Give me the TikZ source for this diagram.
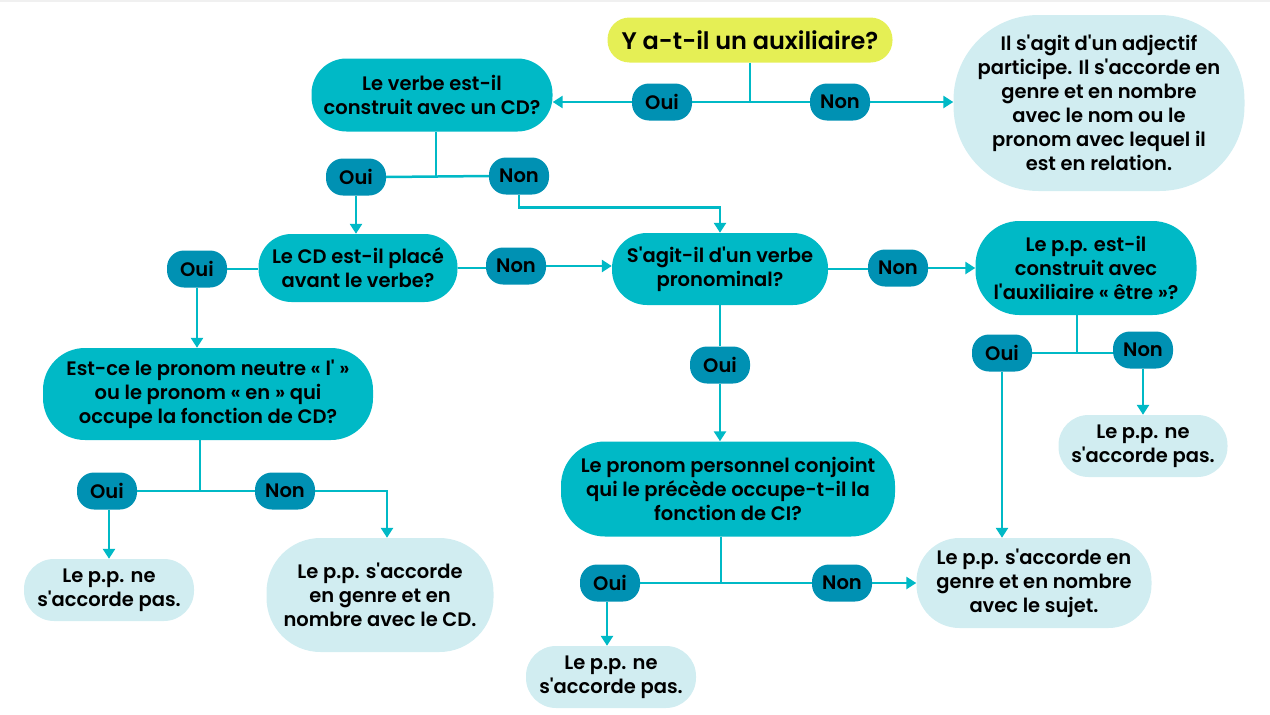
\documentclass[tikz,border=0pt]{standalone}
\usepackage{fontspec}
\newfontfamily\pf{Poppins}[BoldFont={Poppins SemiBold}]
\usetikzlibrary{arrows.meta}
\definecolor{tealc}{HTML}{00B9C6}
\definecolor{pillc}{HTML}{0091B3}
\definecolor{lightc}{HTML}{D1EDF1}
\definecolor{yelc}{HTML}{E5EF55}
\tikzset{
  base/.style={inner sep=0pt, align=center, text=black, font=\pf\bfseries\fontsize{19.5}{24}\selectfont},
  qbox/.style={base, fill=tealc},
  abox/.style={base, fill=lightc},
  pill/.style={base, fill=pillc, minimum width=60pt, minimum height=37pt, rounded corners=17pt},
  ln/.style={draw=tealc, line width=2.5pt},
  arr/.style={ln, -{Triangle[width=12pt,length=10pt]}},
}
\begin{document}
\begin{tikzpicture}[x=1pt,y=-1pt]
\useasboundingbox (0,0) rectangle (1270,715);
\fill[gray!12] (0,0) rectangle (1270,2);

% nodes
\node[base, fill=yelc, minimum width=285pt, minimum height=45pt, rounded corners=22pt, font=\pf\bfseries\fontsize{24}{28}\selectfont] (Y) at (750,40) {Y a-t-il un auxiliaire?};
\node[qbox, minimum width=241pt, minimum height=73pt, rounded corners=35pt] (CD) at (432,95) {Le verbe est-il\\construit avec un CD?};
\node[abox, minimum width=291pt, minimum height=176pt, rounded corners=85pt] (ADJ) at (1099,103) {Il s'agit d'un adjectif\\participe. Il s'accorde en\\genre et en nombre\\avec le nom ou le\\pronom avec lequel il\\est en relation.};
\node[pill] (o1) at (662,102) {Oui};
\node[pill] (n1) at (840,102) {Non};

\node[pill] (o2) at (356,177) {Oui};
\node[pill] (n2) at (519,176) {Non};

\node[qbox, minimum width=199pt, minimum height=68pt, rounded corners=33pt] (AV) at (358,268) {Le CD est-il placé\\avant le verbe?};
\node[qbox, minimum width=216pt, minimum height=72pt, rounded corners=35pt] (PR) at (720,269) {S'agit-il d'un verbe\\pronominal?};

\node[pill] (o3) at (197,269) {Oui};
\node[pill] (n3) at (516,266) {Non};
\node[qbox, minimum width=330pt, minimum height=92pt, rounded corners=42pt] (NE) at (208,394) {Est-ce le pronom neutre « l' »\\ou le pronom « en » qui\\occupe la fonction de CD?};

\node[pill] (o4) at (107,491) {Oui};
\node[pill] (n4) at (285,491) {Non};
\node[abox, minimum width=170pt, minimum height=62pt, rounded corners=30pt] (A1) at (109,590) {Le p.p. ne\\s'accorde pas.};
\node[abox, minimum width=227pt, minimum height=114pt, rounded corners=54pt] (A2) at (380,595) {Le p.p. s'accorde\\en genre et en\\nombre avec le CD.};

\node[pill] (n5) at (898,268) {Non};
\node[qbox, minimum width=221pt, minimum height=94pt, rounded corners=44pt] (ET) at (1086,268) {Le p.p. est-il\\construit avec\\l'auxiliaire « être »?};
\node[pill] (o5) at (720,365) {Oui};
\node[qbox, minimum width=334pt, minimum height=95pt, rounded corners=44pt] (CI) at (728,489) {Le pronom personnel conjoint\\qui le précède occupe-t-il la\\fonction de CI?};

\node[pill] (o6) at (1002,353) {Oui};
\node[pill] (n6) at (1143,350) {Non};
\node[abox, minimum width=169pt, minimum height=62pt, rounded corners=30pt] (A3) at (1143,446) {Le p.p. ne\\s'accorde pas.};
\node[abox, minimum width=235pt, minimum height=90pt, rounded corners=43pt] (A4) at (1034,583) {Le p.p. s'accorde en\\genre et en nombre\\avec le sujet.};

\node[pill] (o7) at (610,583) {Oui};
\node[pill] (n7) at (842,583) {Non};
\node[abox, minimum width=170pt, minimum height=62pt, rounded corners=30pt] (A5) at (611,677) {Le p.p. ne\\s'accorde pas.};

% connectors
\draw[ln] (Y.south) -- (Y.south |- o1.east);
\draw[ln] (o1.east) -- (n1.west);
\draw[arr] (o1.west) -- (CD.east |- o1.west);
\draw[arr] (n1.east) -- (ADJ.west |- n1.east);

\draw[ln] ([xshift=4pt]CD.south) -- ([xshift=4pt]CD.south |- o2.east);
\draw[ln] (o2.east) -- (n2.west);
\draw[arr] (o2.south) -- (o2.south |- AV.north);
\draw[arr] (n2.south) -- ++(0,13) -| (PR.north);

\draw[ln] (o3.east) -- (AV.west |- o3.east);
\draw[arr] (o3.south) -- (o3.south |- NE.north);
\draw[ln] (AV.east) -- (n3.west |- AV.east);
\draw[arr] (n3.east) -- (PR.west |- n3.east);

\draw[ln] ([xshift=-8pt]NE.south) -- ([xshift=-8pt]NE.south |- o4.east);
\draw[ln] (o4.east) -- (n4.west);
\draw[arr] ([xshift=2pt]o4.south) -- ([xshift=2pt]o4.south |- A1.north);
\draw[arr] (n4.east) -| ([xshift=7pt]A2.north);

\draw[ln] (PR.east) -- (n5.west |- PR.east);
\draw[arr] (n5.east) -- (ET.west |- n5.east);
\draw[ln] (PR.south) -- (o5.north);
\draw[arr] (o5.south) -- (o5.south |- CI.north);

\draw[ln] ([xshift=-9pt]ET.south) -- ([xshift=-9pt]ET.south |- o6.east);
\draw[ln] (o6.east) -- (n6.west |- o6.east);
\draw[arr] (n6.south) -- (n6.south |- A3.north);
\draw[arr] (o6.south) -- (o6.south |- A4.north);

\draw[ln] ([xshift=-7pt]CI.south) -- ([xshift=-7pt]CI.south |- o7.east);
\draw[ln] (o7.east) -- (n7.west);
\draw[arr] ([xshift=-3pt]o7.south) -- ([xshift=-3pt]o7.south |- A5.north);
\draw[arr] (n7.east) -- (A4.west |- n7.east);
\end{tikzpicture}
\end{document}
